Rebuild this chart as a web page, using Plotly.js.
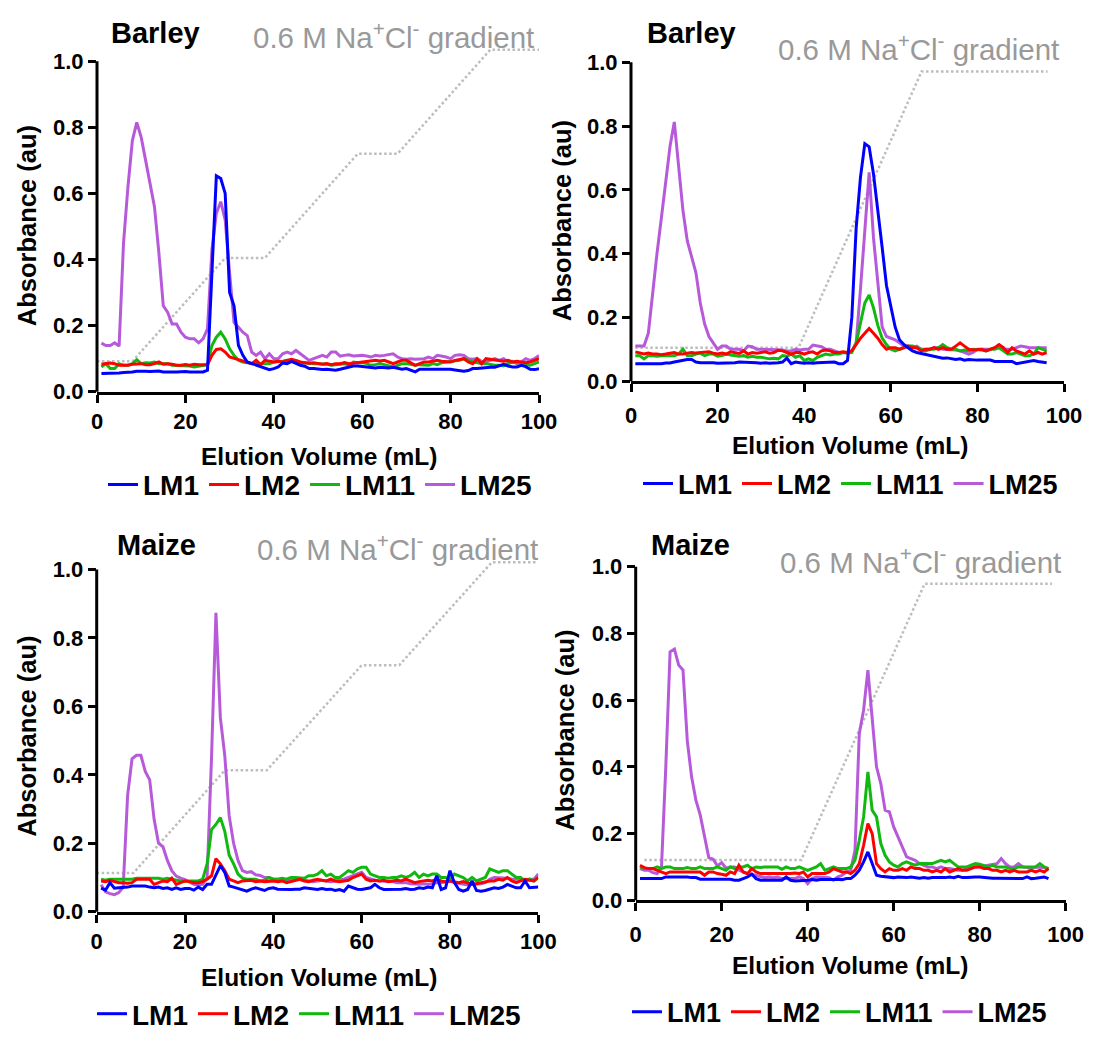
<!DOCTYPE html>
<html><head><meta charset="utf-8">
<script src="https://cdn.plot.ly/plotly-3.0.1.min.js"></script>
<style>html,body{margin:0;padding:0;background:#fff}#chart{width:1097px;height:1039px}</style>
</head><body><div id="chart"></div>
<script>
// ---------- DATA ----------
const seriesNames = ['LM1','LM2','LM11','LM25'];
const panelTitles = ['Barley','Barley','Maize','Maize'];
const gradientLabel = '0.6 M Na<sup>+</sup>Cl<sup>-</sup> gradient';
const xTitle = 'Elution Volume (mL)';
const yTitle = 'Absorbance (au)';
const xTicks = [0,20,40,60,80,100];
const yTicks = [0,0.2,0.4,0.6,0.8,1.0];

const volume100 = [1,2,3,4,5,6,7,8,9,10,11,12,13,14,15,16,17,18,19,20,21,22,23,24,25,26,27,28,29,30,31,32,33,34,35,36,37,38,39,40,41,42,43,44,45,46,47,48,49,50,51,52,53,54,55,56,57,58,59,60,61,62,63,64,65,66,67,68,69,70,71,72,73,74,75,76,77,78,79,80,81,82,83,84,85,86,87,88,89,90,91,92,93,94,95,96,97,98,99,100];
const volume96 = [1,2,3,4,5,6,7,8,9,10,11,12,13,14,15,16,17,18,19,20,21,22,23,24,25,26,27,28,29,30,31,32,33,34,35,36,37,38,39,40,41,42,43,44,45,46,47,48,49,50,51,52,53,54,55,56,57,58,59,60,61,62,63,64,65,66,67,68,69,70,71,72,73,74,75,76,77,78,79,80,81,82,83,84,85,86,87,88,89,90,91,92,93,94,95,96];

// Panel A: Barley (left)
const barleyA_LM1 = [0.055,0.055,0.056,0.057,0.057,0.058,0.058,0.060,0.062,0.063,
 0.062,0.061,0.062,0.063,0.060,0.061,0.060,0.060,0.061,0.061,
 0.060,0.059,0.060,0.060,0.065,0.360,0.653,0.645,0.600,0.300,
 0.260,0.140,0.110,0.090,0.085,0.082,0.075,0.070,0.067,0.070,
 0.075,0.087,0.085,0.092,0.085,0.080,0.077,0.070,0.070,0.068,
 0.067,0.068,0.066,0.065,0.068,0.072,0.074,0.078,0.078,0.077,
 0.075,0.074,0.072,0.074,0.073,0.072,0.074,0.070,0.068,0.070,
 0.066,0.060,0.068,0.068,0.068,0.070,0.068,0.068,0.068,0.068,
 0.066,0.064,0.062,0.064,0.070,0.070,0.072,0.072,0.074,0.074,
 0.078,0.083,0.078,0.075,0.075,0.080,0.076,0.068,0.067,0.070];
const barleyA_LM2 = [0.083,0.085,0.087,0.085,0.080,0.080,0.080,0.083,0.085,0.085,
 0.082,0.082,0.085,0.090,0.083,0.085,0.083,0.080,0.080,0.082,
 0.080,0.083,0.082,0.082,0.082,0.110,0.128,0.130,0.120,0.105,
 0.100,0.097,0.093,0.090,0.085,0.095,0.082,0.095,0.092,0.090,
 0.092,0.090,0.095,0.098,0.095,0.090,0.088,0.086,0.088,0.085,
 0.083,0.085,0.082,0.085,0.085,0.088,0.085,0.086,0.088,0.090,
 0.090,0.092,0.095,0.093,0.095,0.090,0.085,0.090,0.095,0.095,
 0.088,0.080,0.085,0.090,0.090,0.092,0.095,0.092,0.090,0.090,
 0.095,0.098,0.100,0.090,0.085,0.100,0.085,0.100,0.098,0.095,
 0.095,0.092,0.095,0.090,0.092,0.090,0.088,0.090,0.095,0.100];
const barleyA_LM11 = [0.075,0.085,0.070,0.070,0.085,0.080,0.080,0.085,0.097,0.085,
 0.088,0.087,0.090,0.085,0.085,0.085,0.080,0.080,0.078,0.080,
 0.078,0.075,0.078,0.080,0.082,0.140,0.165,0.180,0.160,0.130,
 0.110,0.095,0.090,0.088,0.085,0.085,0.085,0.083,0.085,0.090,
 0.090,0.092,0.095,0.092,0.090,0.088,0.088,0.086,0.085,0.085,
 0.085,0.083,0.080,0.082,0.085,0.085,0.080,0.090,0.088,0.088,
 0.085,0.080,0.082,0.085,0.082,0.078,0.075,0.080,0.085,0.085,
 0.082,0.080,0.082,0.080,0.080,0.085,0.082,0.088,0.090,0.090,
 0.092,0.095,0.100,0.095,0.090,0.088,0.085,0.085,0.082,0.080,
 0.080,0.078,0.085,0.090,0.088,0.085,0.082,0.080,0.085,0.090];
const barleyA_LM25 = [0.147,0.140,0.140,0.148,0.138,0.450,0.620,0.760,0.815,0.770,
 0.700,0.630,0.560,0.420,0.260,0.240,0.205,0.205,0.180,0.165,
 0.160,0.160,0.148,0.160,0.190,0.430,0.540,0.575,0.520,0.360,
 0.210,0.195,0.180,0.170,0.120,0.110,0.120,0.100,0.115,0.100,
 0.100,0.115,0.120,0.115,0.125,0.115,0.105,0.095,0.100,0.105,
 0.110,0.105,0.120,0.120,0.108,0.110,0.112,0.108,0.110,0.110,
 0.108,0.105,0.110,0.108,0.110,0.112,0.115,0.105,0.100,0.098,
 0.100,0.098,0.100,0.100,0.105,0.100,0.110,0.108,0.105,0.100,
 0.110,0.112,0.110,0.100,0.098,0.100,0.092,0.090,0.095,0.100,
 0.095,0.100,0.090,0.092,0.085,0.090,0.100,0.095,0.100,0.110];
const gradientA_x = [0,8,29,38,59,68,89,100];
const gradientA_y = [0.092,0.092,0.405,0.405,0.72,0.72,1.035,1.035];

// Panel B: Barley (right)
const barleyB_LM1 = [0.055,0.055,0.055,0.055,0.053,0.055,0.055,0.057,0.057,0.060,
 0.063,0.065,0.068,0.068,0.060,0.058,0.058,0.060,0.058,0.056,
 0.056,0.058,0.058,0.058,0.060,0.060,0.060,0.058,0.058,0.056,
 0.058,0.056,0.056,0.058,0.060,0.072,0.055,0.060,0.058,0.056,
 0.058,0.056,0.058,0.058,0.058,0.058,0.060,0.055,0.055,0.065,
 0.200,0.480,0.640,0.745,0.735,0.650,0.540,0.420,0.300,0.240,
 0.170,0.130,0.115,0.105,0.095,0.090,0.087,0.083,0.080,0.078,
 0.075,0.072,0.073,0.070,0.068,0.070,0.066,0.068,0.066,0.066,
 0.066,0.066,0.066,0.062,0.062,0.062,0.060,0.062,0.055,0.058,
 0.060,0.062,0.065,0.062,0.060,0.058];
const barleyB_LM2 = [0.092,0.088,0.085,0.088,0.085,0.085,0.083,0.085,0.088,0.090,
 0.085,0.085,0.088,0.090,0.088,0.090,0.090,0.092,0.088,0.085,
 0.088,0.085,0.092,0.090,0.087,0.095,0.085,0.090,0.088,0.090,
 0.092,0.088,0.090,0.097,0.095,0.090,0.085,0.090,0.090,0.085,
 0.090,0.092,0.085,0.095,0.098,0.095,0.090,0.090,0.092,0.090,
 0.095,0.115,0.135,0.150,0.165,0.150,0.135,0.115,0.100,0.105,
 0.105,0.100,0.105,0.110,0.105,0.105,0.095,0.100,0.100,0.105,
 0.100,0.105,0.100,0.100,0.110,0.120,0.110,0.100,0.098,0.100,
 0.100,0.095,0.100,0.105,0.115,0.105,0.090,0.105,0.095,0.090,
 0.085,0.095,0.085,0.090,0.085,0.090];
const barleyB_LM11 = [0.080,0.080,0.070,0.080,0.080,0.078,0.080,0.080,0.080,0.080,
 0.085,0.100,0.080,0.080,0.085,0.088,0.080,0.085,0.085,0.078,
 0.080,0.085,0.082,0.080,0.078,0.080,0.075,0.078,0.075,0.075,
 0.072,0.070,0.072,0.070,0.080,0.078,0.085,0.075,0.080,0.065,
 0.070,0.065,0.075,0.080,0.085,0.082,0.085,0.085,0.090,0.088,
 0.090,0.120,0.180,0.245,0.270,0.230,0.175,0.135,0.115,0.100,
 0.095,0.100,0.105,0.110,0.110,0.105,0.100,0.095,0.100,0.100,
 0.105,0.115,0.105,0.100,0.100,0.095,0.098,0.095,0.100,0.100,
 0.098,0.095,0.100,0.100,0.105,0.095,0.085,0.085,0.090,0.085,
 0.080,0.080,0.085,0.105,0.100,0.095];
const barleyB_LM25 = [0.110,0.110,0.110,0.150,0.280,0.400,0.510,0.620,0.735,0.813,
 0.680,0.535,0.440,0.390,0.340,0.245,0.180,0.140,0.120,0.100,
 0.110,0.110,0.100,0.100,0.100,0.095,0.110,0.108,0.100,0.100,
 0.100,0.100,0.098,0.100,0.098,0.095,0.095,0.100,0.098,0.100,
 0.100,0.113,0.110,0.108,0.100,0.100,0.095,0.090,0.090,0.090,
 0.095,0.120,0.290,0.470,0.655,0.450,0.300,0.170,0.140,0.135,
 0.130,0.120,0.110,0.110,0.105,0.110,0.100,0.100,0.100,0.105,
 0.105,0.100,0.100,0.100,0.098,0.095,0.090,0.085,0.090,0.100,
 0.100,0.100,0.100,0.105,0.105,0.100,0.100,0.100,0.105,0.110,
 0.108,0.105,0.105,0.105,0.105,0.105];
const gradientB_x = [1,38.7,67.1,96.2];
const gradientB_y = [0.105,0.105,0.971,0.971];

// Panel C: Maize (left)
const maizeC_LM1 = [0.069,0.063,0.085,0.069,0.070,0.070,0.072,0.075,0.075,0.077,
 0.075,0.072,0.070,0.072,0.068,0.070,0.065,0.070,0.065,0.068,
 0.068,0.063,0.072,0.065,0.080,0.080,0.110,0.135,0.115,0.075,
 0.072,0.068,0.066,0.060,0.066,0.070,0.066,0.062,0.068,0.070,
 0.066,0.065,0.065,0.065,0.066,0.066,0.070,0.068,0.066,0.065,
 0.068,0.065,0.066,0.062,0.065,0.060,0.075,0.070,0.066,0.065,
 0.068,0.070,0.080,0.070,0.065,0.065,0.064,0.065,0.066,0.068,
 0.065,0.066,0.070,0.068,0.072,0.070,0.105,0.065,0.070,0.120,
 0.085,0.065,0.060,0.065,0.090,0.062,0.060,0.062,0.065,0.070,
 0.068,0.072,0.080,0.075,0.070,0.070,0.090,0.070,0.070,0.072];
const maizeC_LM2 = [0.090,0.088,0.092,0.088,0.085,0.085,0.083,0.085,0.095,0.095,
 0.095,0.095,0.080,0.085,0.090,0.088,0.098,0.080,0.085,0.090,
 0.088,0.085,0.085,0.088,0.095,0.105,0.155,0.140,0.120,0.095,
 0.090,0.085,0.090,0.090,0.092,0.088,0.090,0.088,0.090,0.090,
 0.088,0.090,0.085,0.088,0.092,0.095,0.090,0.088,0.092,0.095,
 0.092,0.090,0.095,0.090,0.088,0.090,0.092,0.100,0.105,0.110,
 0.095,0.090,0.092,0.090,0.092,0.088,0.090,0.092,0.090,0.095,
 0.090,0.085,0.088,0.090,0.092,0.090,0.095,0.090,0.088,0.090,
 0.088,0.085,0.088,0.085,0.080,0.082,0.085,0.088,0.090,0.090,
 0.095,0.092,0.100,0.090,0.085,0.090,0.095,0.092,0.090,0.100];
const maizeC_LM11 = [0.095,0.092,0.095,0.095,0.095,0.095,0.093,0.095,0.098,0.098,
 0.098,0.100,0.098,0.098,0.095,0.098,0.095,0.092,0.090,0.090,
 0.090,0.088,0.090,0.095,0.140,0.240,0.255,0.275,0.235,0.165,
 0.140,0.110,0.098,0.095,0.095,0.095,0.090,0.092,0.100,0.095,
 0.095,0.098,0.095,0.100,0.100,0.100,0.098,0.105,0.105,0.110,
 0.120,0.105,0.110,0.100,0.100,0.110,0.120,0.115,0.125,0.130,
 0.130,0.110,0.105,0.100,0.100,0.098,0.100,0.100,0.105,0.100,
 0.105,0.115,0.100,0.110,0.105,0.110,0.110,0.100,0.100,0.095,
 0.110,0.105,0.100,0.090,0.100,0.090,0.095,0.100,0.125,0.120,
 0.115,0.120,0.120,0.110,0.100,0.100,0.090,0.095,0.090,0.100];
const maizeC_LM25 = [0.079,0.058,0.053,0.050,0.056,0.072,0.340,0.447,0.457,0.457,
 0.410,0.385,0.270,0.200,0.190,0.150,0.120,0.104,0.098,0.094,
 0.087,0.080,0.078,0.080,0.100,0.450,0.873,0.567,0.457,0.280,
 0.200,0.150,0.120,0.115,0.117,0.108,0.106,0.100,0.100,0.095,
 0.095,0.092,0.090,0.092,0.095,0.095,0.092,0.090,0.088,0.090,
 0.092,0.090,0.088,0.090,0.092,0.095,0.100,0.105,0.110,0.115,
 0.100,0.095,0.092,0.090,0.090,0.088,0.088,0.085,0.085,0.085,
 0.082,0.080,0.080,0.082,0.080,0.082,0.085,0.085,0.088,0.090,
 0.085,0.082,0.080,0.078,0.080,0.080,0.082,0.085,0.095,0.100,
 0.100,0.100,0.098,0.095,0.095,0.095,0.092,0.095,0.095,0.110];
const gradientC_x = [0,8.3,29,38.5,60,68.5,89.5,100];
const gradientC_y = [0.113,0.113,0.413,0.413,0.72,0.72,1.021,1.021];

// Panel D: Maize (right)
const maizeD_LM1 = [0.065,0.065,0.065,0.065,0.065,0.065,0.070,0.070,0.070,0.070,
 0.072,0.070,0.068,0.068,0.063,0.063,0.063,0.063,0.063,0.063,
 0.065,0.063,0.060,0.060,0.065,0.070,0.078,0.065,0.060,0.060,
 0.060,0.060,0.058,0.060,0.070,0.060,0.058,0.058,0.060,0.060,
 0.062,0.060,0.062,0.062,0.060,0.062,0.063,0.062,0.065,0.065,
 0.075,0.090,0.115,0.145,0.110,0.075,0.072,0.070,0.068,0.068,
 0.070,0.068,0.068,0.070,0.068,0.066,0.068,0.066,0.068,0.068,
 0.066,0.068,0.070,0.068,0.072,0.068,0.068,0.070,0.070,0.070,
 0.068,0.068,0.066,0.066,0.066,0.065,0.066,0.066,0.065,0.065,
 0.070,0.065,0.066,0.068,0.070,0.065];
const maizeD_LM2 = [0.105,0.098,0.095,0.095,0.090,0.085,0.080,0.085,0.085,0.085,
 0.085,0.085,0.085,0.085,0.085,0.075,0.085,0.085,0.080,0.078,
 0.075,0.085,0.080,0.105,0.085,0.080,0.095,0.085,0.080,0.080,
 0.080,0.080,0.080,0.078,0.080,0.080,0.082,0.080,0.085,0.070,
 0.080,0.080,0.080,0.080,0.085,0.095,0.090,0.085,0.085,0.080,
 0.090,0.110,0.165,0.230,0.200,0.110,0.095,0.085,0.095,0.090,
 0.090,0.095,0.090,0.100,0.095,0.095,0.090,0.090,0.085,0.090,
 0.085,0.095,0.085,0.090,0.095,0.090,0.090,0.095,0.100,0.100,
 0.095,0.095,0.090,0.090,0.085,0.090,0.085,0.090,0.085,0.085,
 0.085,0.090,0.085,0.090,0.085,0.095];
const maizeD_LM11 = [0.100,0.095,0.095,0.095,0.100,0.095,0.100,0.100,0.095,0.095,
 0.095,0.098,0.095,0.095,0.100,0.095,0.095,0.095,0.100,0.095,
 0.090,0.100,0.095,0.100,0.100,0.105,0.095,0.100,0.098,0.100,
 0.100,0.098,0.100,0.093,0.100,0.095,0.095,0.100,0.095,0.090,
 0.095,0.100,0.110,0.090,0.095,0.100,0.095,0.095,0.095,0.100,
 0.120,0.180,0.250,0.385,0.270,0.250,0.170,0.135,0.115,0.105,
 0.100,0.110,0.115,0.110,0.105,0.110,0.110,0.108,0.110,0.115,
 0.120,0.115,0.120,0.110,0.100,0.100,0.100,0.105,0.110,0.108,
 0.105,0.100,0.105,0.100,0.100,0.100,0.095,0.095,0.100,0.100,
 0.100,0.100,0.100,0.110,0.100,0.095];
const maizeD_LM25 = [0.095,0.090,0.090,0.083,0.080,0.100,0.400,0.745,0.753,0.705,
 0.690,0.478,0.370,0.300,0.256,0.187,0.128,0.123,0.103,0.113,
 0.096,0.100,0.100,0.090,0.085,0.080,0.078,0.075,0.070,0.068,
 0.070,0.068,0.070,0.065,0.065,0.065,0.065,0.070,0.065,0.050,
 0.065,0.070,0.070,0.070,0.068,0.060,0.070,0.075,0.085,0.090,
 0.150,0.500,0.570,0.690,0.550,0.400,0.350,0.270,0.265,0.220,
 0.190,0.160,0.130,0.125,0.120,0.110,0.105,0.100,0.100,0.095,
 0.100,0.095,0.095,0.092,0.090,0.090,0.095,0.100,0.100,0.100,
 0.102,0.105,0.108,0.110,0.125,0.110,0.100,0.100,0.110,0.100,
 0.098,0.095,0.100,0.100,0.098,0.095];
const gradientD_x = [2,38.5,67.2,96.8];
const gradientD_y = [0.121,0.121,0.949,0.949];

// ---------- LAYOUT / STYLE ----------
const W = 1097, H = 1039;
const FONT = '"Liberation Sans", Arial, Helvetica, sans-serif';
const colors = {LM1:'#0000FF', LM2:'#FF0000', LM11:'#10B810', LM25:'#B65ADA'};
const YMAX = 1.08;

const panels = [
  {x: volume100, s:{LM1:barleyA_LM1, LM2:barleyA_LM2, LM11:barleyA_LM11, LM25:barleyA_LM25},
   gx: gradientA_x, gy: gradientA_y,
   px:{l:97, r:539, y0:396.7, y1:62, tickStand:0},
   title:[155,33], grad:[393,36], ytitle:[27,229], xtitle:[319,462], legend:[103,491], lsize:28},
  {x: volume96, s:{LM1:barleyB_LM1, LM2:barleyB_LM2, LM11:barleyB_LM11, LM25:barleyB_LM25},
   gx: gradientB_x, gy: gradientB_y,
   px:{l:631, r:1064, y0:386, y1:63.1, tickStand:4},
   title:[691,33], grad:[918,48], ytitle:[562,224], xtitle:[850,451], legend:[638,490], lsize:27},
  {x: volume100, s:{LM1:maizeC_LM1, LM2:maizeC_LM2, LM11:maizeC_LM11, LM25:maizeC_LM25},
   gx: gradientC_x, gy: gradientC_y,
   px:{l:96.7, r:538.3, y0:923.3, y1:576.6, tickStand:0},
   title:[156,552], grad:[397,554], ytitle:[27,746], xtitle:[319,990], legend:[92,1027], lsize:28},
  {x: volume96, s:{LM1:maizeD_LM1, LM2:maizeD_LM2, LM11:maizeD_LM11, LM25:maizeD_LM25},
   gx: gradientD_x, gy: gradientD_y,
   px:{l:635.7, r:1065.7, y0:911.7, y1:573.9, tickStand:4},
   title:[690,552], grad:[921,568], ytitle:[565,740], xtitle:[850,978], legend:[627,1025], lsize:27}
];

const traces = [];
const layout = {
  width: W, height: H, margin:{l:0,r:0,t:0,b:0},
  paper_bgcolor:'#fff', plot_bgcolor:'rgba(0,0,0,0)',
  showlegend: true, annotations: [], shapes: [],
  font:{family:FONT, color:'#000'}
};
const drawOrder = ['LM25','LM11','LM2','LM1'];
const rank = {LM1:1, LM2:2, LM11:3, LM25:4};

panels.forEach((p, i) => {
  const k = i === 0 ? '' : String(i+1);
  const xa = 'x'+k, ya = 'y'+k, lg = 'legend'+k;
  const unit = (p.px.y0 - p.px.y1);
  const topPx = p.px.y0 - YMAX*unit;
  layout['xaxis'+k] = {
    domain:[p.px.l/W, p.px.r/W], range:[0,100], anchor: ya,
    showline:true, linewidth:3, linecolor:'#000', mirror:false,
    ticks:'outside', ticklen:8, tickwidth:3, tickcolor:'#000',
    tickvals: xTicks, ticklabelstandoff: p.px.tickStand,
    tickfont:{family:FONT, size:22, weight:'bold', color:'#000'},
    showgrid:false, zeroline:false, fixedrange:true
  };
  layout['yaxis'+k] = {
    domain:[1 - p.px.y0/H, 1 - topPx/H], range:[0, YMAX], anchor: xa,
    showline:false, ticks:'outside', ticklen:8, tickwidth:3, tickcolor:'#000',
    tickvals: yTicks, tickformat:'.1f',
    tickfont:{family:FONT, size:22, weight:'bold', color:'#000'},
    showgrid:false, zeroline:false, fixedrange:true
  };
  layout.shapes.push({type:'line', xref: xa+' domain', yref: ya, x0:0, x1:0, y0:-0.009, y1:1.0,
    line:{color:'#000', width:3}, layer:'above'});
  traces.push({type:'scatter', mode:'lines', x:p.gx, y:p.gy, xaxis:xa, yaxis:ya,
    line:{color:'#BDBDBD', width:2.5, dash:'2.5px,2.5px'}, showlegend:false, hoverinfo:'skip'});
  drawOrder.forEach(n => {
    traces.push({type:'scatter', mode:'lines', name:n, x:p.x, y:p.s[n], xaxis:xa, yaxis:ya,
      legend: lg, legendrank: rank[n],
      line:{color:colors[n], width:3}});
  });
  layout[lg] = {
    orientation:'h', x: p.legend[0]/W, xanchor:'left', y: 1 - p.legend[1]/H, yanchor:'middle',
    bgcolor:'rgba(0,0,0,0)', borderwidth:0, traceorder:'normal',
    font:{family:FONT, size:p.lsize, weight:'bold', color:'#000'}, itemwidth:30
  };
  const A = layout.annotations;
  A.push({xref:'paper', yref:'paper', x:p.title[0]/W, y:1-p.title[1]/H, xanchor:'center', yanchor:'middle',
    text:panelTitles[i], showarrow:false, font:{family:FONT, size:29, weight:'bold', color:'#000'}});
  A.push({xref:'paper', yref:'paper', x:p.grad[0]/W, y:1-p.grad[1]/H, xanchor:'center', yanchor:'middle',
    text:gradientLabel, showarrow:false, font:{family:FONT, size:29.5, color:'#999999'}});
  A.push({xref:'paper', yref:'paper', x:p.ytitle[0]/W, y:1-p.ytitle[1]/H, xanchor:'center', yanchor:'middle',
    text:yTitle, textangle:-90, showarrow:false, font:{family:FONT, size:25.5, weight:'bold', color:'#000'}});
  A.push({xref:'paper', yref:'paper', x:p.xtitle[0]/W, y:1-p.xtitle[1]/H, xanchor:'center', yanchor:'middle',
    text:xTitle, showarrow:false, font:{family:FONT, size:24.5, weight:'bold', color:'#000'}});
});

Plotly.newPlot('chart', traces, layout, {staticPlot:true, displayModeBar:false});
</script></body></html>
